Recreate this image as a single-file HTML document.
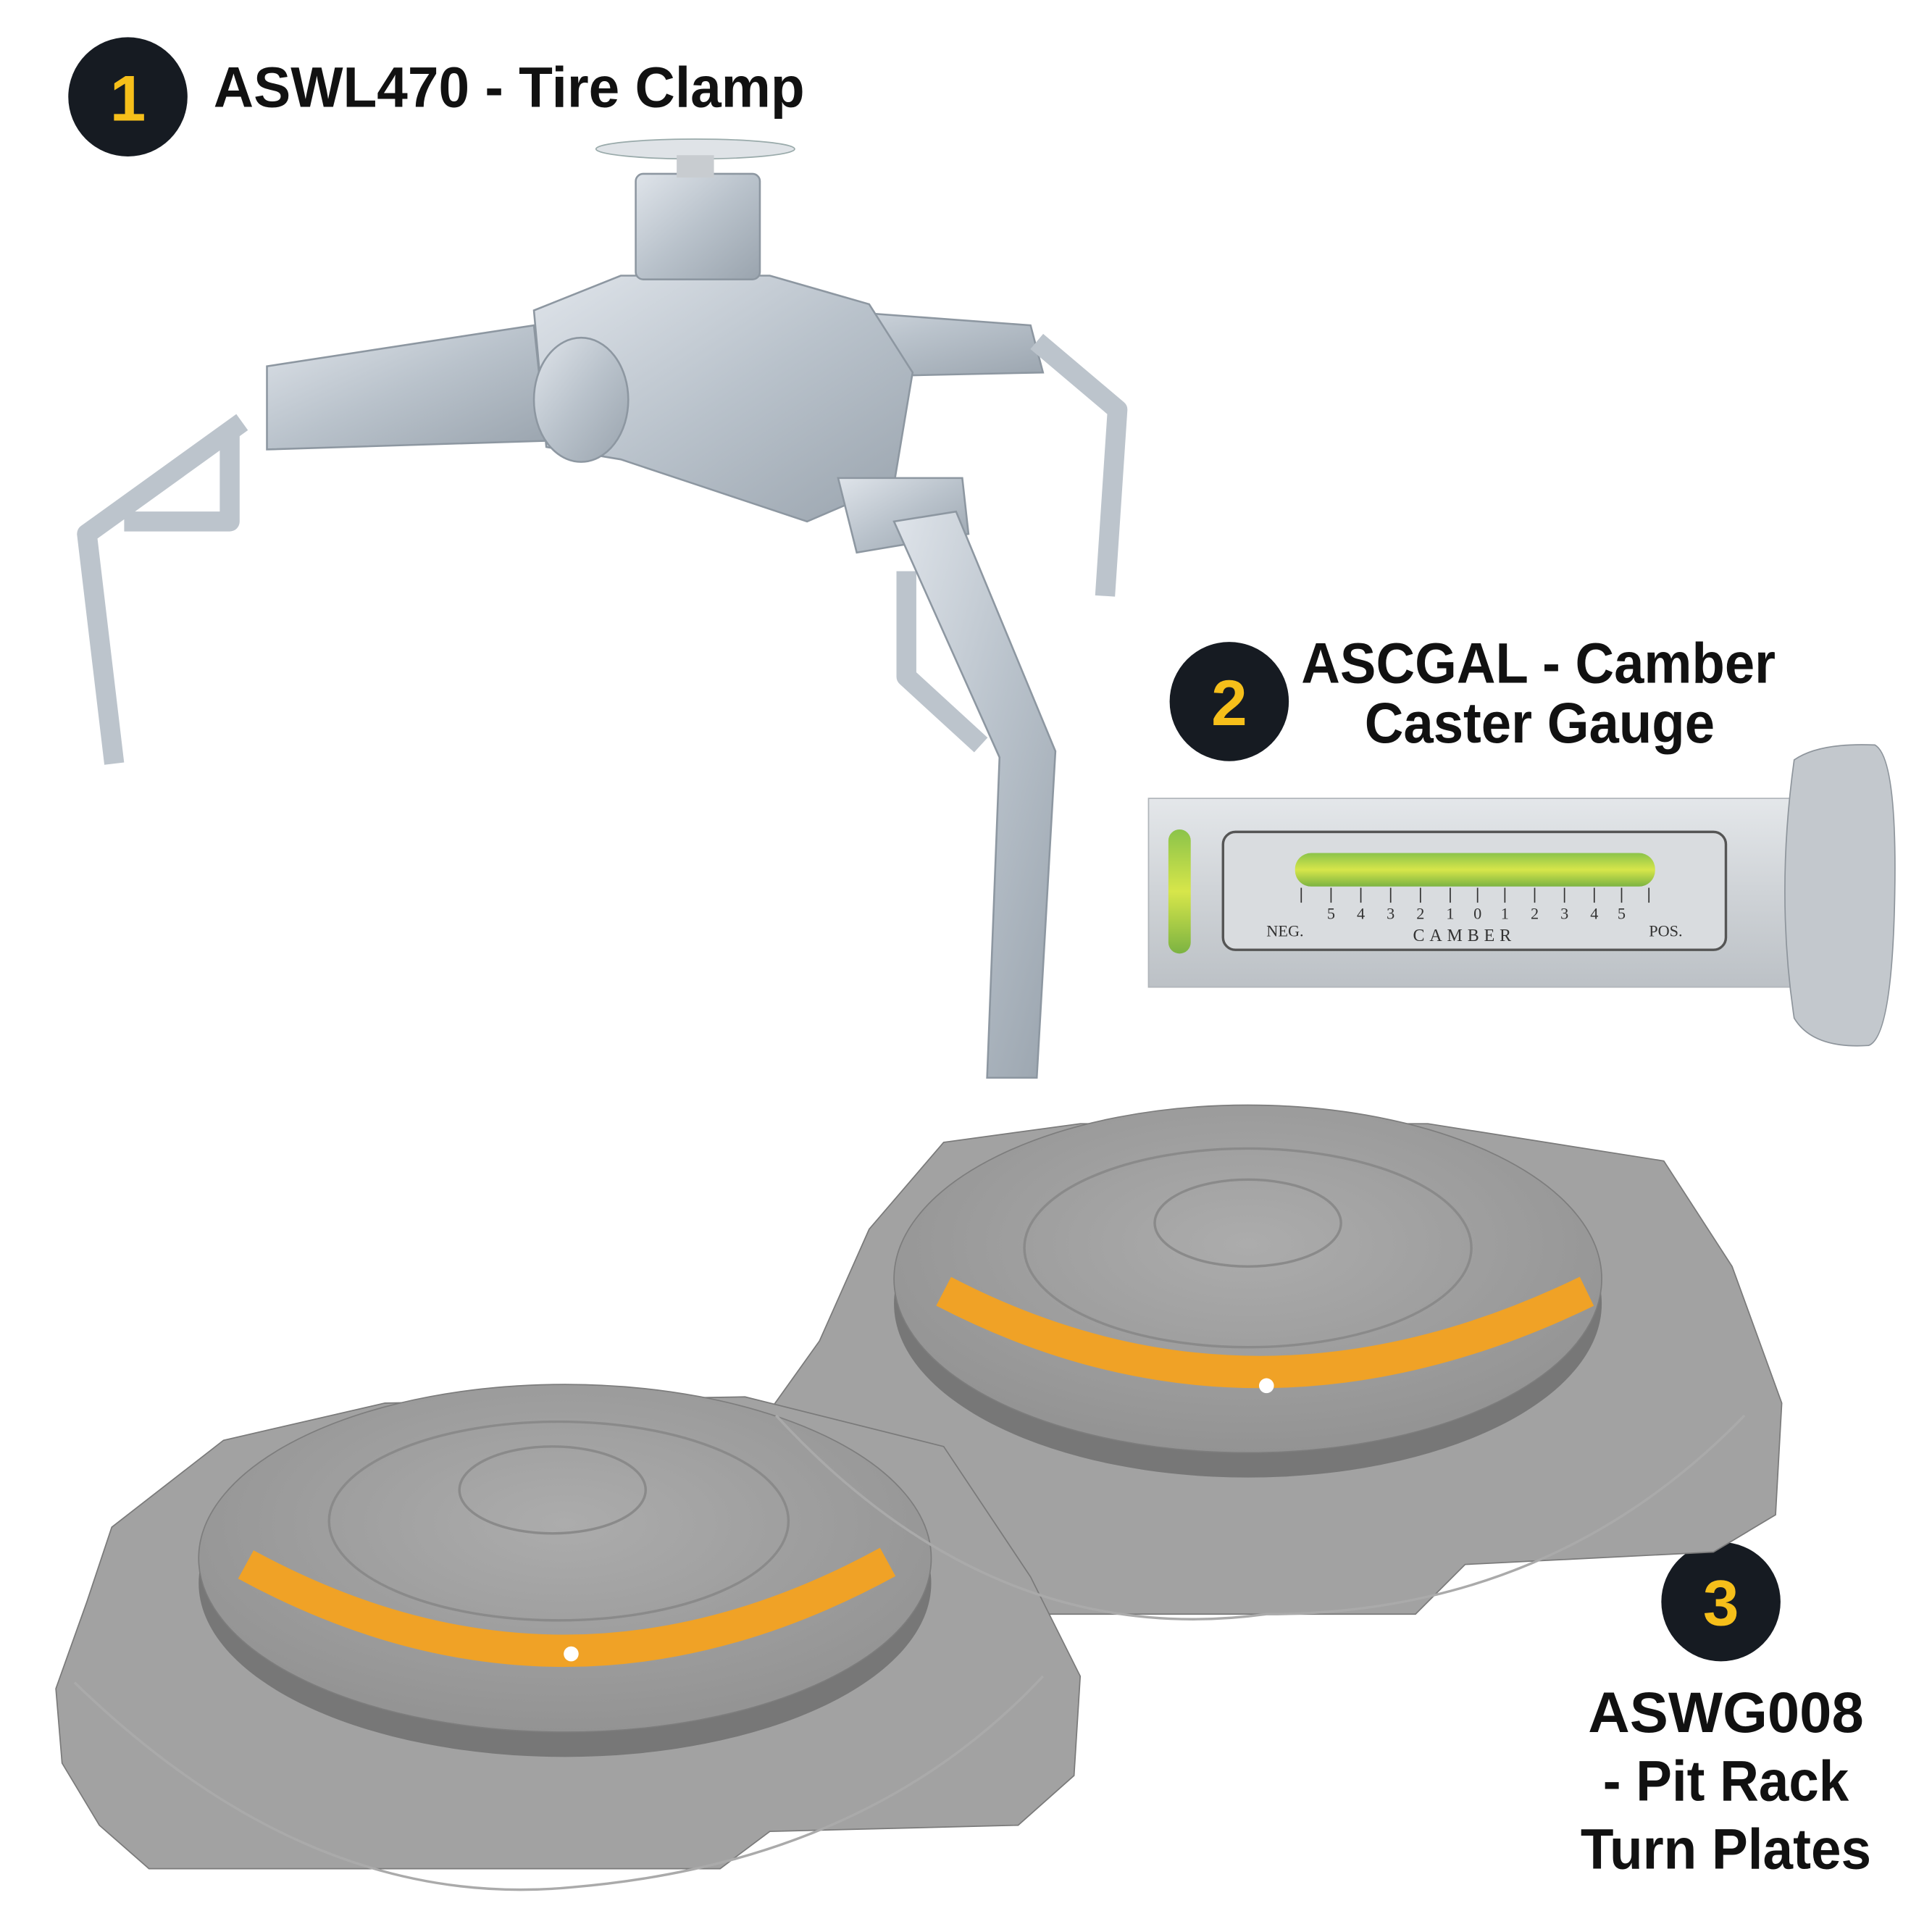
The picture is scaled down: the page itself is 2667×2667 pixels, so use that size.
<!DOCTYPE html>
<html><head><meta charset="utf-8"><style>
html,body{margin:0;padding:0;background:#fff}
svg{display:block}
text{font-family:"Liberation Sans",sans-serif;font-weight:bold;fill:#111}
.s{font-family:"Liberation Serif",serif;font-weight:normal;fill:#333}
</style></head><body>
<svg width="2667" height="2667" viewBox="0 0 1556 1556" xmlns="http://www.w3.org/2000/svg">
<defs>
<linearGradient id="met" x1="0" y1="0" x2="1" y2="1"><stop offset="0" stop-color="#dfe4ea"/><stop offset="0.5" stop-color="#b9c2cb"/><stop offset="1" stop-color="#9aa4ae"/></linearGradient>
<linearGradient id="bar" x1="0" y1="0" x2="0" y2="1"><stop offset="0" stop-color="#e4e7ea"/><stop offset="0.5" stop-color="#cfd3d7"/><stop offset="1" stop-color="#bcc1c6"/></linearGradient>
<linearGradient id="grn" x1="0" y1="0" x2="0" y2="1"><stop offset="0" stop-color="#8bc34a"/><stop offset="0.5" stop-color="#d7e64a"/><stop offset="1" stop-color="#7cb342"/></linearGradient>
<radialGradient id="plate" cx="0.5" cy="0.4" r="0.6"><stop offset="0" stop-color="#acacac"/><stop offset="1" stop-color="#939393"/></radialGradient>
</defs>

<circle cx="103" cy="78" r="48" fill="#161b22"/>
<text x="103" y="97" font-size="52" style="fill:#f6bf1a" text-anchor="middle">1</text>
<text x="172" y="86" font-size="46" textLength="476" lengthAdjust="spacingAndGlyphs">ASWL470 - Tire Clamp</text>

<circle cx="990" cy="565" r="48" fill="#161b22"/>
<text x="990" y="584" font-size="52" style="fill:#f6bf1a" text-anchor="middle">2</text>
<text x="1048" y="550" font-size="46" textLength="382" lengthAdjust="spacingAndGlyphs">ASCGAL - Camber</text>
<text x="1099" y="598" font-size="46" textLength="282" lengthAdjust="spacingAndGlyphs">Caster Gauge</text>

<g fill="url(#met)" stroke="#8d97a1" stroke-width="1.5">
<polygon points="215,295 430,262 440,355 215,362"/>
<polygon points="600,245 830,262 840,300 610,305"/>
<polygon points="430,250 500,222 620,222 700,245 735,300 720,390 650,420 560,390 500,370 440,360"/>
<rect x="512" y="140" width="100" height="85" rx="6"/>
<ellipse cx="468" cy="322" rx="38" ry="50"/>
<polygon points="675,385 775,385 780,430 720,440 690,445"/>
</g>
<ellipse cx="560" cy="120" rx="80" ry="8" fill="#dfe3e7" stroke="#9aa" />
<rect x="545" y="125" width="30" height="18" fill="#c8ccd0"/>
<g fill="none" stroke="#bcc4cc" stroke-width="16" stroke-linejoin="round">
<polyline points="195,340 70,430 92,615"/>
<polyline points="185,345 185,420 100,420"/>
<polyline points="835,275 900,330 890,480"/>
<polyline points="730,460 730,545 790,600"/>
</g>
<polygon points="720,420 770,412 850,605 835,868 795,868 805,610" fill="url(#met)" stroke="#8d97a1" stroke-width="1.5"/>

<rect x="925" y="643" width="527" height="152" fill="url(#bar)" stroke="#b0b5ba"/>
<path d="M1445,612 Q1465,598 1510,600 Q1528,610 1526,720 Q1524,835 1505,842 Q1460,845 1445,820 Q1430,720 1445,612Z" fill="#c3c8cd" stroke="#8e959c"/>
<rect x="941" y="668" width="18" height="100" rx="9" fill="url(#grn)"/>
<rect x="985" y="670" width="405" height="95" rx="10" fill="#d9dcdf" stroke="#555" stroke-width="2"/>
<rect x="1043" y="687" width="290" height="27" rx="13" fill="url(#grn)"/>
<g stroke="#333" stroke-width="1">
<line x1="1048" y1="715" x2="1048" y2="727"/><line x1="1328" y1="715" x2="1328" y2="727"/>
<line x1="1072" y1="715" x2="1072" y2="727"/><line x1="1096" y1="715" x2="1096" y2="727"/><line x1="1120" y1="715" x2="1120" y2="727"/><line x1="1144" y1="715" x2="1144" y2="727"/><line x1="1168" y1="715" x2="1168" y2="727"/><line x1="1190" y1="715" x2="1190" y2="727"/><line x1="1212" y1="715" x2="1212" y2="727"/><line x1="1236" y1="715" x2="1236" y2="727"/><line x1="1260" y1="715" x2="1260" y2="727"/><line x1="1284" y1="715" x2="1284" y2="727"/><line x1="1306" y1="715" x2="1306" y2="727"/>
</g>
<g font-size="13" text-anchor="middle">
<text class="s" x="1072" y="740">5</text><text class="s" x="1096" y="740">4</text><text class="s" x="1120" y="740">3</text><text class="s" x="1144" y="740">2</text><text class="s" x="1168" y="740">1</text><text class="s" x="1190" y="740">0</text><text class="s" x="1212" y="740">1</text><text class="s" x="1236" y="740">2</text><text class="s" x="1260" y="740">3</text><text class="s" x="1284" y="740">4</text><text class="s" x="1306" y="740">5</text>
</g>
<text class="s" x="1020" y="754" font-size="13">NEG.</text>
<text class="s" x="1138" y="758" font-size="14" letter-spacing="4">CAMBER</text>
<text class="s" x="1328" y="754" font-size="13">POS.</text>

<circle cx="1386" cy="1290" r="48" fill="#161b22"/>
<text x="1386" y="1309" font-size="52" style="fill:#f6bf1a" text-anchor="middle">3</text>

<polygon points="700,990 760,920 870,905 1150,905 1340,935 1395,1020 1435,1130 1430,1220 1380,1250 1180,1260 1140,1300 700,1300 660,1260 620,1220 610,1150 660,1080" fill="#a2a2a2" stroke="#7a7a7a"/>
<ellipse cx="1005" cy="1050" rx="285" ry="140" fill="#777"/>
<ellipse cx="1005" cy="1030" rx="285" ry="140" fill="url(#plate)" stroke="#7d7d7d"/>
<ellipse cx="1005" cy="1005" rx="180" ry="80" fill="none" stroke="#8a8a8a" stroke-width="2"/>
<ellipse cx="1005" cy="985" rx="75" ry="35" fill="none" stroke="#8a8a8a" stroke-width="2"/>
<path d="M760,1040 Q1010,1170 1278,1040" fill="none" stroke="#f0a226" stroke-width="26"/>
<circle cx="1020" cy="1116" r="6" fill="#fff"/>

<polygon points="90,1230 180,1160 310,1130 600,1125 760,1165 830,1270 870,1350 865,1430 820,1470 620,1475 580,1505 120,1505 80,1470 50,1420 45,1360 70,1290" fill="#a2a2a2" stroke="#7a7a7a"/>
<ellipse cx="455" cy="1275" rx="295" ry="140" fill="#777"/>
<ellipse cx="455" cy="1255" rx="295" ry="140" fill="url(#plate)" stroke="#7d7d7d"/>
<ellipse cx="450" cy="1225" rx="185" ry="80" fill="none" stroke="#8a8a8a" stroke-width="2"/>
<ellipse cx="445" cy="1200" rx="75" ry="35" fill="none" stroke="#8a8a8a" stroke-width="2"/>
<path d="M198,1260 Q455,1400 715,1258" fill="none" stroke="#f0a226" stroke-width="26"/>
<circle cx="460" cy="1332" r="6" fill="#fff"/>

<path d="M625,1140 Q800,1330 1020,1300 Q1250,1300 1405,1140" fill="none" stroke="#aaa" stroke-width="2"/>
<path d="M60,1355 Q250,1540 460,1520 Q700,1500 840,1350" fill="none" stroke="#aaa" stroke-width="2"/>

<text x="1390" y="1395" font-size="46" text-anchor="middle" textLength="222" lengthAdjust="spacingAndGlyphs">ASWG008</text>
<text x="1390" y="1450" font-size="46" text-anchor="middle" textLength="198" lengthAdjust="spacingAndGlyphs">- Pit Rack</text>
<text x="1390" y="1505" font-size="46" text-anchor="middle" textLength="234" lengthAdjust="spacingAndGlyphs">Turn Plates</text>
</svg>
</body></html>
